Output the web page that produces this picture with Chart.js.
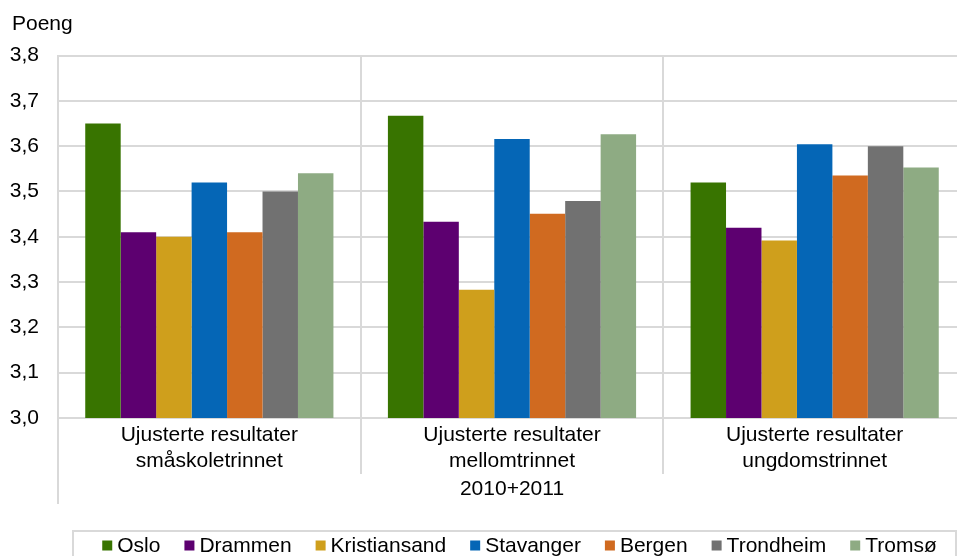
<!DOCTYPE html>
<html lang="no">
<head>
<meta charset="utf-8">
<title>Poeng 2010+2011</title>
<script src="https://cdn.jsdelivr.net/npm/chart.js@4/dist/chart.umd.min.js"></script>
<style>
  html, body { margin: 0; padding: 0; background: #fff; overflow: hidden; }
  #wrap { width: 957px; height: 556px; overflow: hidden; position: relative; }
  canvas { display: block; }
</style>
</head>
<body>
<div id="wrap"><canvas id="chart" width="966" height="556"></canvas></div>
<script>
// Categories on the x axis (two-line labels) and the grouping label below them
const categories = [
  ['Ujusterte resultater', 'småskoletrinnet'],
  ['Ujusterte resultater', 'mellomtrinnet'],
  ['Ujusterte resultater', 'ungdomstrinnet']
];
const groupLabels = ['2010+2011'];
const yTickLabels = ['3,0', '3,1', '3,2', '3,3', '3,4', '3,5', '3,6', '3,7', '3,8'];
const yTitle = 'Poeng';

// Series: one value per category
const cities = ['Oslo', 'Drammen', 'Kristiansand', 'Stavanger', 'Bergen', 'Trondheim', 'Tromsø'];
const oslo         = [3.65, 3.667, 3.52];
const drammen      = [3.41, 3.433, 3.42];
const kristiansand = [3.40, 3.283, 3.392];
const stavanger    = [3.52, 3.616, 3.604];
const bergen       = [3.41, 3.451, 3.535];
const trondheim    = [3.50, 3.479, 3.60];
const tromso       = [3.54, 3.626, 3.553];
const seriesValues = [oslo, drammen, kristiansand, stavanger, bergen, trondheim, tromso];

// Styling
const colours = ['#387400', '#5d0070', '#cf9f1c', '#0566b6', '#d06a20', '#717171', '#8eab83'];
const gridColour = '#d9d9d9';
const fontFamily = "'Liberation Sans', Arial, Helvetica, sans-serif";
const fontSize = 21;

// Extra drawing: axis title, extended separators and the framed legend
const extras = {
  id: 'extras',
  afterDraw(chart) {
    const ctx = chart.ctx;
    const area = chart.chartArea;
    const xs = chart.scales.x;
    const x2 = chart.scales.x2;
    ctx.save();

    // axis title
    ctx.fillStyle = '#000';
    ctx.font = fontSize + 'px ' + fontFamily;
    ctx.textBaseline = 'middle';
    ctx.textAlign = 'left';
    ctx.fillText(yTitle, 12, 24);

    // category separators continued below the axis
    ctx.strokeStyle = gridColour;
    ctx.lineWidth = 2;
    for (let i = 0; i <= categories.length; i++) {
      const px = Math.round(xs.getPixelForValue(i - 0.5));
      const bottom = i === 0 ? x2.bottom : xs.bottom;
      ctx.beginPath();
      ctx.moveTo(px, area.bottom);
      ctx.lineTo(px, bottom);
      ctx.stroke();
    }

    // legend frame
    const boxLeft = 73, boxTop = 531, boxRight = 956;
    ctx.strokeRect(boxLeft, boxTop, boxRight - boxLeft, 60);

    // legend items
    const sq = 10, gapText = 5, gapItem = 24;
    const widths = chart.data.datasets.map(ds => ctx.measureText(ds.label).width);
    const total = widths.reduce((a, w) => a + sq + gapText + w, 0) + gapItem * (widths.length - 1);
    let x = (boxLeft + boxRight) / 2 + 5 - total / 2;
    const cy = 545.5;
    chart.data.datasets.forEach((ds, i) => {
      ctx.fillStyle = ds.backgroundColor;
      ctx.fillRect(x, cy - sq / 2, sq, sq);
      x += sq + gapText;
      ctx.fillStyle = '#000';
      ctx.fillText(ds.label, x, cy + 1);
      x += widths[i] + gapItem;
    });
    ctx.restore();
  }
};

new Chart(document.getElementById('chart'), {
  type: 'bar',
  data: {
    labels: categories,
    datasets: cities.map((name, i) => ({
      label: name,
      data: seriesValues[i],
      backgroundColor: colours[i],
      borderWidth: 0,
      categoryPercentage: 0.82,
      barPercentage: 1
    }))
  },
  options: {
    responsive: false,
    animation: false,
    devicePixelRatio: 1,
    layout: { padding: { top: 55.5, left: 0, right: 0, bottom: 52 } },
    plugins: {
      legend: { display: false },
      tooltip: { enabled: false },
      title: { display: false }
    },
    scales: {
      x: {
        type: 'category',
        position: 'bottom',
        weight: 0,
        offset: true,
        grid: { display: true, offset: true, color: gridColour, lineWidth: 2, drawTicks: false },
        border: { display: true, color: gridColour, width: 2 },
        ticks: {
          color: '#000',
          font: { family: fontFamily, size: fontSize, lineHeight: 1.2 },
          padding: 5,
          maxRotation: 0,
          autoSkip: false
        },
        afterFit(scale) { scale.height = 56; }
      },
      x2: {
        type: 'category',
        labels: groupLabels,
        position: 'bottom',
        weight: 1,
        offset: true,
        grid: { display: false, drawTicks: false },
        border: { display: false },
        ticks: {
          color: '#000',
          font: { family: fontFamily, size: fontSize, lineHeight: 1.2 },
          padding: 3,
          maxRotation: 0
        },
        afterFit(scale) { scale.height = 30; }
      },
      y: {
        min: 3,
        max: 3.8,
        grid: { color: gridColour, lineWidth: 2, drawTicks: false },
        border: { display: true, color: gridColour, width: 2 },
        ticks: {
          stepSize: 0.1,
          color: '#000',
          font: { family: fontFamily, size: fontSize },
          padding: 19,
          callback: (value, index) => yTickLabels[index]
        },
        afterFit(scale) { scale.width = 58; }
      }
    }
  },
  plugins: [extras]
});
</script>
</body>
</html>
